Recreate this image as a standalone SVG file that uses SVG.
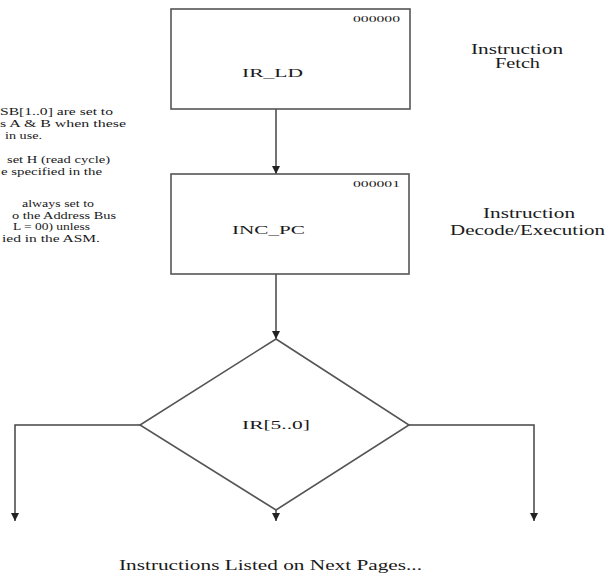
<svg xmlns="http://www.w3.org/2000/svg" width="608" height="581" viewBox="0 0 608 581">
<defs>
<marker id="ah" viewBox="0 0 8 8" refX="8" refY="4" markerWidth="8" markerHeight="8" markerUnits="userSpaceOnUse" orient="auto">
<path d="M0,0 L8,4 L0,8 Z" fill="#222"/>
</marker>
<style>
text{font-family:"Liberation Serif","Times New Roman",serif;fill:#1a1a1a;}
.note{font-size:10px;}
.code{font-size:9px;}
.lbl{font-size:13.5px;}
.ttl{font-size:14px;}
.box{fill:#fff;stroke:#555;stroke-width:1.6;}
.con{fill:none;stroke:#444;stroke-width:1.5;}
</style>
</defs>
<rect width="608" height="581" fill="#fff"/>
<g id="notes">
<text class="note" x="0" y="115" textLength="113" lengthAdjust="spacingAndGlyphs">SB[1..0] are set to</text>
<text class="note" x="0" y="127" textLength="126" lengthAdjust="spacingAndGlyphs">s A &amp; B  when these</text>
<text class="note" x="5" y="139" textLength="37" lengthAdjust="spacingAndGlyphs">in use.</text>
<text class="note" x="7" y="163" textLength="103" lengthAdjust="spacingAndGlyphs">set H (read cycle)</text>
<text class="note" x="1" y="175" textLength="101" lengthAdjust="spacingAndGlyphs">e specified in the</text>
<text class="note" x="22" y="207" textLength="72" lengthAdjust="spacingAndGlyphs">always set to</text>
<text class="note" x="12" y="219" textLength="104" lengthAdjust="spacingAndGlyphs">o the Address Bus</text>
<text class="note" x="13" y="230" textLength="77" lengthAdjust="spacingAndGlyphs">L = 00)  unless</text>
<text class="note" x="2" y="242" textLength="98" lengthAdjust="spacingAndGlyphs">ied in the ASM.</text>
</g>
<g id="connectors">
<line class="con" x1="276" y1="109" x2="276" y2="174" marker-end="url(#ah)"/>
<line class="con" x1="276" y1="274" x2="276" y2="339" marker-end="url(#ah)"/>
<polyline class="con" points="140,425 15,425 15,521" marker-end="url(#ah)"/>
<polyline class="con" points="409,425 534,425 534,521" marker-end="url(#ah)"/>
<line class="con" x1="276" y1="510" x2="276" y2="521" marker-end="url(#ah)"/>
</g>
<g id="ir_ld">
<rect class="box" x="171" y="9" width="239" height="100"/>
<text class="code" x="353" y="22" textLength="47" lengthAdjust="spacingAndGlyphs">000000</text>
<text class="lbl" x="242" y="77" textLength="61" lengthAdjust="spacingAndGlyphs">IR_LD</text>
</g>
<g id="inc_pc">
<rect class="box" x="171" y="174" width="238" height="100"/>
<text class="code" x="353" y="187" textLength="47" lengthAdjust="spacingAndGlyphs">000001</text>
<text class="lbl" x="232" y="234" textLength="73" lengthAdjust="spacingAndGlyphs">INC_PC</text>
</g>
<g id="decision">
<polygon class="box" points="276,339 409,425 276,510 140,425"/>
<text class="lbl" x="242" y="429" textLength="68" lengthAdjust="spacingAndGlyphs">IR[5..0]</text>
</g>
<g id="fetch_label">
<text class="ttl" x="471" y="54" textLength="92" lengthAdjust="spacingAndGlyphs">Instruction</text>
<text class="ttl" x="495" y="68" textLength="45" lengthAdjust="spacingAndGlyphs">Fetch</text>
</g>
<g id="decode_label">
<text class="ttl" x="483" y="218" textLength="92" lengthAdjust="spacingAndGlyphs">Instruction</text>
<text class="ttl" x="450" y="235" textLength="155" lengthAdjust="spacingAndGlyphs">Decode/Execution</text>
</g>
<g id="footer">
<text class="ttl" x="119" y="570" textLength="303" lengthAdjust="spacingAndGlyphs">Instructions Listed on Next Pages...</text>
</g>
</svg>
